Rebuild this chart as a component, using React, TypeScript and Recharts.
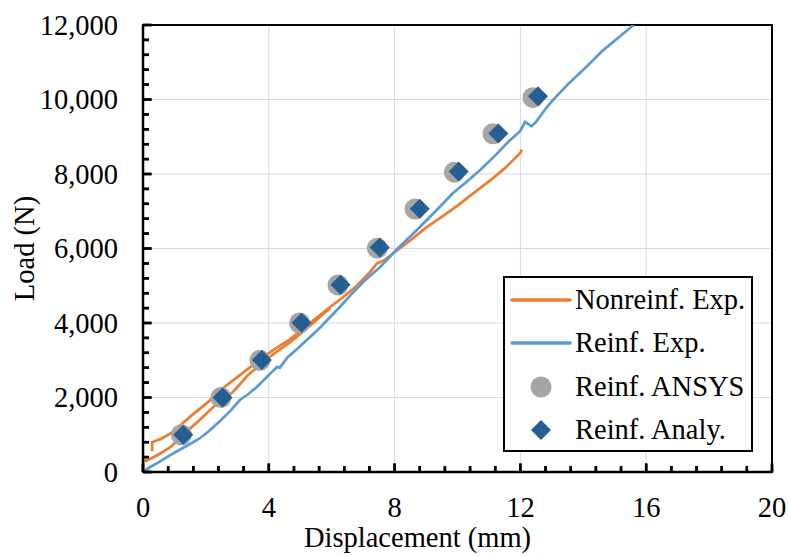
import React from 'react';
import { ComposedChart, Line, Scatter, XAxis, YAxis, CartesianGrid, Legend, ReferenceArea, ReferenceLine } from 'recharts';

const FONT = '"Liberation Serif", "Times New Roman", serif';
const FS = 28.5;

// Tick values
const X_TICKS = [0, 0.8, 1.6, 2.4, 3.2, 4, 4.8, 5.6, 6.4, 7.2, 8, 8.8, 9.6, 10.4, 11.2, 12, 12.8, 13.6, 14.4, 15.2, 16, 16.8, 17.6, 18.4, 19.2, 20];
const X_MAJOR = [0, 4, 8, 12, 16, 20];
const Y_TICKS = [0, 400, 800, 1200, 1600, 2000, 2400, 2800, 3200, 3600, 4000, 4400, 4800, 5200, 5600, 6000, 6400, 6800, 7200, 7600, 8000, 8400, 8800, 9200, 9600, 10000, 10400, 10800, 11200, 11600, 12000];
const Y_MAJOR = [0, 2000, 4000, 6000, 8000, 10000, 12000];

// Nonreinf. Exp. (upper branch, continues to failure)
const nonreinfUpper = [
  { x: 0.29, y: 560 }, { x: 0.29, y: 800 }, { x: 0.6, y: 900 }, { x: 0.95, y: 1074 },
  { x: 1.49, y: 1480 }, { x: 2.03, y: 1850 }, { x: 2.54, y: 2250 }, { x: 3.08, y: 2600 },
  { x: 3.62, y: 2954 }, { x: 4.1, y: 3250 }, { x: 4.67, y: 3560 }, { x: 5.3, y: 3990 },
  { x: 5.95, y: 4430 }, { x: 6.3, y: 4650 }, { x: 6.8, y: 5000 }, { x: 7.2, y: 5350 },
  { x: 7.44, y: 5600 }, { x: 7.7, y: 5700 }, { x: 8.0, y: 5900 }, { x: 8.5, y: 6220 },
  { x: 9.0, y: 6560 }, { x: 9.5, y: 6850 }, { x: 10.0, y: 7150 }, { x: 10.5, y: 7480 },
  { x: 11.0, y: 7800 }, { x: 11.5, y: 8150 }, { x: 11.99, y: 8560 }, { x: 12.05, y: 8650 },
];
// Nonreinf. Exp. (lower branch)
const nonreinfLower = [
  { x: 0, y: 130 }, { x: 0, y: 320 }, { x: 0.1, y: 300 }, { x: 0.5, y: 470 },
  { x: 0.89, y: 680 }, { x: 1.21, y: 950 }, { x: 1.81, y: 1400 }, { x: 2.3, y: 1800 },
  { x: 2.86, y: 2148 }, { x: 3.34, y: 2604 }, { x: 3.72, y: 2873 }, { x: 4.2, y: 3200 },
  { x: 4.67, y: 3480 }, { x: 5.2, y: 3850 }, { x: 5.6, y: 4150 }, { x: 5.95, y: 4400 },
];
// Reinf. Exp.
const reinfExp = [
  { x: 0, y: 0 }, { x: 0.2, y: 120 }, { x: 0.48, y: 250 }, { x: 0.8, y: 420 },
  { x: 1.11, y: 570 }, { x: 1.45, y: 730 }, { x: 1.8, y: 900 }, { x: 2.1, y: 1100 },
  { x: 2.45, y: 1370 }, { x: 2.8, y: 1660 }, { x: 3.08, y: 1933 }, { x: 3.36, y: 2100 },
  { x: 3.62, y: 2282 }, { x: 3.95, y: 2560 }, { x: 4.26, y: 2819 }, { x: 4.35, y: 2800 },
  { x: 4.6, y: 3080 }, { x: 4.9, y: 3300 }, { x: 5.21, y: 3544 }, { x: 5.6, y: 3850 },
  { x: 5.95, y: 4162 }, { x: 6.26, y: 4430 }, { x: 6.6, y: 4750 }, { x: 7.0, y: 5100 },
  { x: 7.54, y: 5504 }, { x: 8.1, y: 6000 }, { x: 8.71, y: 6498 }, { x: 9.3, y: 7000 },
  { x: 9.86, y: 7491 }, { x: 10.3, y: 7800 }, { x: 10.72, y: 8109 }, { x: 11.2, y: 8500 },
  { x: 11.6, y: 8850 }, { x: 11.99, y: 9150 }, { x: 12.15, y: 9400 }, { x: 12.35, y: 9280 },
  { x: 12.5, y: 9400 }, { x: 12.8, y: 9750 }, { x: 13.04, y: 9990 }, { x: 13.5, y: 10400 },
  { x: 14.1, y: 10880 }, { x: 14.6, y: 11300 }, { x: 15.1, y: 11650 }, { x: 15.6, y: 12000 },
];
// Reinf. ANSYS
const reinfAnsys = [
  { x: 1.22, y: 1000 }, { x: 2.48, y: 2000 }, { x: 3.72, y: 3000 }, { x: 4.98, y: 4000 },
  { x: 6.2, y: 5020 }, { x: 7.45, y: 6010 }, { x: 8.65, y: 7060 }, { x: 9.9, y: 8050 },
  { x: 11.13, y: 9080 }, { x: 12.4, y: 10050 },
];
// Reinf. Analy.
const reinfAnaly = [
  { x: 1.28, y: 1000 }, { x: 2.53, y: 2000 }, { x: 3.78, y: 3010 }, { x: 5.04, y: 4010 },
  { x: 6.28, y: 5030 }, { x: 7.53, y: 6030 }, { x: 8.8, y: 7070 }, { x: 10.04, y: 8070 },
  { x: 11.3, y: 9090 }, { x: 12.56, y: 10090 },
];

const ORANGE = '#ED7D31';
const BLUE = '#5B9BD5';
const GRAY = '#A5A5A5';
const NAVY = '#255E91';

// tick mark lengths in pixels, and in axis units (plot: 629px = 20mm, 447px = 12000N)
const MAJOR_PX = 8.5;
const MINOR_PX = 6;
const X_TICK_MAJOR_LEN = MAJOR_PX * (12000 / 447);
const X_TICK_MINOR_LEN = MINOR_PX * (12000 / 447);
const Y_TICK_MAJOR_LEN = MAJOR_PX * (20 / 629);
const Y_TICK_MINOR_LEN = MINOR_PX * (20 / 629);

const isMajor = (v: number, arr: number[]) => arr.some((m) => Math.abs(m - v) < 1e-6);

const YTick = (props: any) => {
  const { x, y, payload } = props;
  const v = payload.value as number;
  const major = isMajor(v, Y_MAJOR);
  const axisX = x + 25;
  return (
    <g>
      <line x1={axisX} x2={axisX + (major ? MAJOR_PX : MINOR_PX)} y1={y} y2={y} stroke="#000" strokeWidth={2.5} />
      {major && (
        <text x={x} y={y} dy="0.35em" textAnchor="end" fontFamily={FONT} fontSize={FS} fill="#000">
          {v.toLocaleString('en-US')}
        </text>
      )}
    </g>
  );
};

const XTick = (props: any) => {
  const { x, y, payload } = props;
  const v = payload.value as number;
  const major = isMajor(v, X_MAJOR);
  const axisY = y - 25;
  return (
    <g>
      <line x1={x} x2={x} y1={axisY} y2={axisY - (major ? MAJOR_PX : MINOR_PX)} stroke="#000" strokeWidth={2.5} />
      {major && (
        <text x={x} y={y} dy="0.71em" textAnchor="middle" fontFamily={FONT} fontSize={FS} fill="#000">
          {Math.round(v)}
        </text>
      )}
    </g>
  );
};

const CircleShape = (props: any) => <circle cx={props.cx} cy={props.cy} r={10.5} fill={GRAY} />;
const DiamondShape = (props: any) => {
  const { cx, cy } = props;
  const r = 10;
  return <path d={`M${cx},${cy - r}L${cx + r},${cy}L${cx},${cy + r}L${cx - r},${cy}Z`} fill={NAVY} />;
};

const LEGEND_ITEMS = [
  { label: 'Nonreinf. Exp.', kind: 'line', color: ORANGE },
  { label: 'Reinf. Exp.', kind: 'line', color: BLUE },
  { label: 'Reinf. ANSYS', kind: 'circle', color: GRAY },
  { label: 'Reinf. Analy.', kind: 'diamond', color: NAVY },
];

const LegendBox = () => (
  <div
    style={{
      width: 250,
      height: 176,
      boxSizing: 'border-box',
      border: '2px solid #000',
      background: '#fff',
      fontFamily: FONT,
      fontSize: FS,
      color: '#000',
    }}
  >
    {LEGEND_ITEMS.map((it) => (
      <div key={it.label} style={{ height: 43.5, display: 'flex', alignItems: 'center' }}>
        <svg width={70} height={30} style={{ flex: 'none' }}>
          {it.kind === 'line' && (
            <line x1={7} x2={65} y1={15} y2={15} stroke={it.color} strokeWidth={3.5} strokeLinecap="round" />
          )}
          {it.kind === 'circle' && <circle cx={36} cy={15} r={10.5} fill={it.color} />}
          {it.kind === 'diamond' && <path d="M36,5L46,15L36,25L26,15Z" fill={it.color} />}
        </svg>
        <span style={{ lineHeight: 1, whiteSpace: 'nowrap' }}>{it.label}</span>
      </div>
    ))}
  </div>
);

const AXIS_LINE = { stroke: '#000', strokeWidth: 2.5 };

export default function App() {
  return (
    <div style={{ position: 'absolute', left: 0, top: 0, width: 788, height: 556, background: '#fff' }}>
      <ComposedChart
        width={788}
        height={556}
        margin={{ top: 25, right: 16, bottom: 0, left: 0 }}
        style={{ fontFamily: FONT }}
      >
        <CartesianGrid
          xAxisId="main"
          yAxisId="main"
          stroke="#d9d9d9"
          strokeWidth={1}
          horizontalValues={Y_MAJOR}
          verticalValues={[4, 8, 12, 16]}
        />
        <XAxis
          xAxisId="main"
          type="number"
          dataKey="x"
          domain={[0, 20]}
          ticks={X_TICKS}
          interval={0}
          tickSize={0}
          tickMargin={25}
          tickLine={false}
          tick={<XTick />}
          height={84}
          axisLine={AXIS_LINE}
          allowDataOverflow
          label={{ value: 'Displacement (mm)', position: 'insideBottom', offset: 9, dx: -40, fontSize: FS, fontFamily: FONT, fill: '#000' }}
        />
        <YAxis
          yAxisId="main"
          type="number"
          domain={[0, 12000]}
          ticks={Y_TICKS}
          interval={0}
          tickSize={0}
          tickMargin={25}
          tickLine={false}
          tick={<YTick />}
          width={143}
          axisLine={AXIS_LINE}
          allowDataOverflow
          label={{ value: 'Load (N)', angle: -90, position: 'insideLeft', offset: 24, fontSize: FS, fontFamily: FONT, fill: '#000', style: { textAnchor: 'middle' } }}
        />
        <ReferenceArea
          xAxisId="main"
          yAxisId="main"
          x1={0}
          x2={20}
          y1={0}
          y2={12000}
          fill="none"
          fillOpacity={0}
          stroke="#000"
          strokeWidth={2}
          ifOverflow="visible"
        />
        {X_TICKS.map((t) => (
          <ReferenceLine
            key={`xt${t}`}
            xAxisId="main"
            yAxisId="main"
            segment={[{ x: t, y: 0 }, { x: t, y: isMajor(t, X_MAJOR) ? X_TICK_MAJOR_LEN : X_TICK_MINOR_LEN }]}
            stroke="#000"
            strokeWidth={2.5}
            ifOverflow="visible"
          />
        ))}
        {Y_TICKS.map((t) => (
          <ReferenceLine
            key={`yt${t}`}
            xAxisId="main"
            yAxisId="main"
            segment={[{ x: 0, y: t }, { x: isMajor(t, Y_MAJOR) ? Y_TICK_MAJOR_LEN : Y_TICK_MINOR_LEN, y: t }]}
            stroke="#000"
            strokeWidth={2.5}
            ifOverflow="visible"
          />
        ))}
        <Line xAxisId="main" yAxisId="main" data={nonreinfLower} dataKey="y" type="linear" stroke={ORANGE} strokeWidth={2.75} dot={false} isAnimationActive={false} legendType="none" />
        <Line xAxisId="main" yAxisId="main" data={nonreinfUpper} dataKey="y" type="linear" stroke={ORANGE} strokeWidth={2.75} dot={false} isAnimationActive={false} name="Nonreinf. Exp." />
        <Line xAxisId="main" yAxisId="main" data={reinfExp} dataKey="y" type="linear" stroke={BLUE} strokeWidth={2.75} dot={false} isAnimationActive={false} name="Reinf. Exp." />
        <Scatter xAxisId="main" yAxisId="main" data={reinfAnsys} dataKey="y" fill={GRAY} shape={<CircleShape />} isAnimationActive={false} name="Reinf. ANSYS" />
        <Scatter xAxisId="main" yAxisId="main" data={reinfAnaly} dataKey="y" fill={NAVY} shape={<DiamondShape />} isAnimationActive={false} name="Reinf. Analy." />
        <Legend
          layout="vertical"
          align="center"
          verticalAlign="middle"
          content={<LegendBox />}
          wrapperStyle={{ position: 'absolute', left: 503, top: 276, width: 250, height: 176 }}
        />
      </ComposedChart>
    </div>
  );
}
